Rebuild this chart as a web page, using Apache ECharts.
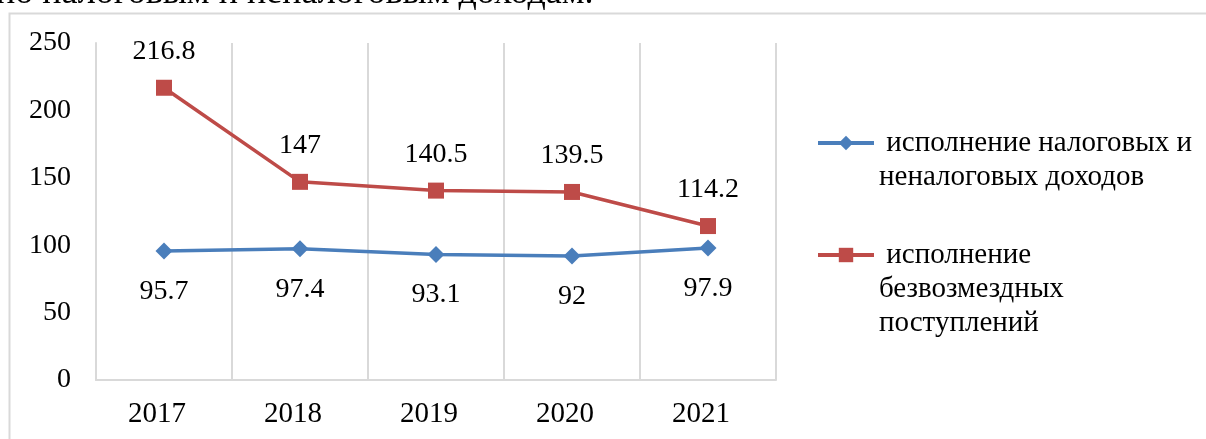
<!DOCTYPE html>
<html>
<head>
<meta charset="utf-8">
<script src="https://cdn.jsdelivr.net/npm/echarts@6/dist/echarts.min.js"></script>
<style>
html, body { margin: 0; padding: 0; background: #fff; }
#chart { width: 1206px; height: 439px; }
</style>
</head>
<body>
<div id="chart"></div>
<script>
// данные графика
var years = ['2017', '2018', '2019', '2020', '2021'];
var nalogovye = [95.7, 97.4, 93.1, 92, 97.9];
var bezvozmezdnye = [216.8, 147, 140.5, 139.5, 114.2];
var yTicks = [0, 50, 100, 150, 200, 250];
var seriesNames = ['исполнение налоговых и\nненалоговых доходов', 'исполнение\nбезвозмездных\nпоступлений'];

var font = 'Liberation Serif';
var lh = 34; // высота строки в легенде
var myChart = echarts.init(document.getElementById('chart'));

// легенда: значок на уровне первой строки текста (пустые строки сверху уравновешивают блок)
function legendItem(name, iconY) {
    var lines = name.split('\n').length;
    var pad = new Array(lines).join('\n');
    return {
        orient: 'vertical', left: 816, top: iconY - (2 * lines - 1) * lh / 2, padding: 0,
        itemWidth: 56, itemHeight: 18,
        lineStyle: {width: 4},
        formatter: function (n) { return pad + ' ' + n; },
        textStyle: {fontFamily: font, fontSize: 29, color: '#000', lineHeight: lh},
        data: [name]
    };
}

option = {
    animation: false,
    backgroundColor: '#fff',
    graphic: [
        {type: 'text', left: -4, top: -24, style: {text: 'по налоговым и неналоговым доходам.', fontFamily: font, fontSize: 36, fill: '#000'}},
        {type: 'rect', shape: {x: 9.5, y: 13.5, width: 1220, height: 450}, style: {fill: 'none', stroke: '#d9d9d9', lineWidth: 2}}
    ],
    grid: {left: 96, right: 430, top: 43, bottom: 59},
    legend: [legendItem(seriesNames[0], 143), legendItem(seriesNames[1], 255)],
    xAxis: {
        type: 'category', data: years, boundaryGap: true,
        axisLine: {lineStyle: {color: '#d9d9d9', width: 2}},
        axisTick: {show: false},
        splitLine: {show: true, lineStyle: {color: '#d9d9d9', width: 2}},
        axisLabel: {fontFamily: font, fontSize: 29, color: '#000', margin: 20, padding: [0, 14, 0, 0]}
    },
    yAxis: {
        type: 'value', min: yTicks[0], max: yTicks[yTicks.length - 1], interval: 50,
        axisLine: {show: true, lineStyle: {color: '#d9d9d9', width: 2}},
        axisTick: {show: false},
        splitLine: {show: false},
        axisLabel: {fontFamily: font, fontSize: 28, color: '#000', margin: 25}
    },
    series: [
        {
            name: seriesNames[0], type: 'line', data: nalogovye,
            symbol: 'diamond', symbolSize: 17,
            lineStyle: {color: '#4a7ebb', width: 3.5}, itemStyle: {color: '#4a7ebb'},
            label: {show: true, position: 'bottom', distance: 18, fontFamily: font, fontSize: 28, color: '#000'}
        },
        {
            name: seriesNames[1], type: 'line', data: bezvozmezdnye,
            symbol: 'rect', symbolSize: 16,
            lineStyle: {color: '#be4b48', width: 3.5}, itemStyle: {color: '#be4b48'},
            label: {show: true, position: 'top', distance: 14, fontFamily: font, fontSize: 28, color: '#000'}
        }
    ]
};
myChart.setOption(option);
</script>
</body>
</html>
